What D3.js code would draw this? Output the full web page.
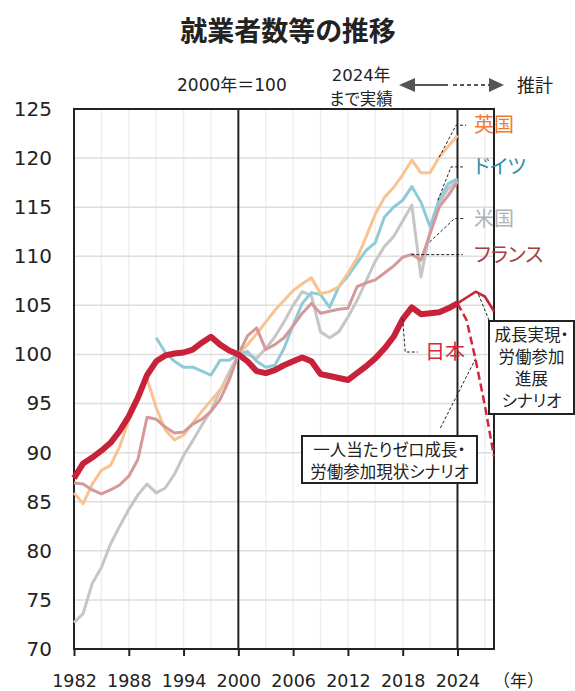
<!DOCTYPE html>
<html>
<head>
<meta charset="utf-8">
<script src="https://cdn.jsdelivr.net/npm/d3@7"></script>
<style>
body { margin: 0; background: #fff; }
text { font-family: "Noto Sans CJK JP", "Noto Sans", sans-serif; font-feature-settings: "palt"; fill: #222; }
.num { font-family: "DejaVu Sans", "Noto Sans CJK JP", sans-serif; font-feature-settings: normal; }
.full { font-feature-settings: normal; }
</style>
</head>
<body>
<script>
// 2000年=100
var years = [1982,1983,1984,1985,1986,1987,1988,1989,1990,1991,1992,1993,1994,1995,1996,1997,1998,1999,
	2000,2001,2002,2003,2004,2005,2006,2007,2008,2009,2010,2011,2012,2013,2014,2015,2016,2017,2018,2019,
	2020,2021,2022,2023,2024];
var japan = [87.4,88.9,89.5,90.2,91.0,92.2,93.7,95.6,97.9,99.3,99.9,100.1,100.2,100.5,101.2,101.8,101.0,100.4,
	100.0,99.3,98.3,98.1,98.4,98.9,99.3,99.7,99.3,98.0,97.8,97.6,97.4,98.1,98.8,99.6,100.6,101.8,103.6,104.8,
	104.1,104.2,104.3,104.7,105.2];
var uk = [85.9,84.8,86.8,88.2,88.7,90.6,93.3,96.0,97.5,94.6,92.3,91.3,91.8,93.0,94.2,95.3,96.4,97.6,
	100.0,101.0,102.1,103.3,104.5,105.5,106.5,107.2,107.8,106.2,106.4,106.9,108.3,109.8,112.0,114.3,116.0,117.0,118.3,119.8,
	118.5,118.5,120.1,121.2,122.3];
var germany = [null,null,null,null,null,null,null,null,null,101.7,100.2,99.3,98.7,98.7,98.3,97.9,99.4,99.4,
	100.0,100.3,99.3,98.7,98.9,100.6,103.0,105.2,106.3,106.1,104.8,106.9,108.0,109.3,110.6,111.4,114.0,115.0,115.7,117.1,
	115.5,113.0,115.8,117.4,117.9];
var usa = [72.7,73.6,76.7,78.3,80.7,82.5,84.2,85.7,86.8,85.9,86.4,87.8,89.7,91.2,92.8,94.3,96.3,98.2,
	100.0,100.0,99.6,100.6,101.8,103.3,105.0,106.4,106.0,102.3,101.7,102.3,103.8,105.5,107.5,109.5,111.0,112.0,113.6,115.2,
	107.9,112.6,115.4,116.9,117.7];
var france = [86.9,86.8,86.2,85.8,86.2,86.7,87.6,89.3,93.6,93.4,92.6,92.0,92.1,92.9,93.4,94.2,95.4,97.4,
	100.0,101.9,102.7,100.5,101.0,101.7,102.9,104.2,105.2,104.2,104.4,104.6,104.7,106.9,107.3,107.6,108.3,109.0,109.9,110.2,
	109.6,112.3,115.0,116.2,117.6];

// 推計
var projYears = [2024,2025,2026,2027,2028];
var japanGrowth = [105.2,105.8,106.4,105.9,104.4];
var japanZero = [105.2,103.5,99.4,94.8,89.6];

var xTicks = [1982,1988,1994,2000,2006,2012,2018,2024];
var yTicks = [70,75,80,85,90,95,100,105,110,115,120,125];
var xGrid = [1985,1988,1991,1994,1997,2003,2006,2009,2012,2015,2018,2021,2027];
var yGrid = [75,80,85,90,95,100,105,110,115,120];

var names = ["米国","ドイツ","英国","フランス"];
var series = [usa, germany, uk, france];
var lineColors = ["#c6c6c6","#8ecbd7","#f9c391","#d6999a"];
var labelColors = ["#b2b2b2","#2f8ea5","#ee7b33","#a4413f"];
// leader lines: [year, value] points
var leaders = [
	[[2020.95,111.45],[2023.67,113.84],[2024.77,113.84]],
	[[2021.85,115.7],[2023.3,119.1],[2024.6,119.1]],
	[[2022,120.1],[2023.85,123.35],[2024.95,123.35]],
	[[2018.94,110.17],[2024.58,110.17]]
];
var japanLeader = [[2018.0,103.65],[2018.28,100.25],[2019.66,100.25]];

var width = 575, height = 691;
var lPad = 74, rPad = 81, tPad = 109, bPad = 42;

var svg = d3.select("body").append("svg")
	.attr("width", width)
	.attr("height", height);

svg.append("rect").attr("width", width).attr("height", height).attr("fill", "#fff");

var xScale = d3.scaleLinear().domain([1982, 2028]).range([lPad, width - rPad]);
var yScale = d3.scaleLinear().domain([70, 125]).range([height - bPad, tPad]);

var g = svg.append("g");

// grid
g.selectAll(".vgrid").data(xGrid).enter().append("line")
	.attr("x1", function(d) { return xScale(d); })
	.attr("x2", function(d) { return xScale(d); })
	.attr("y1", tPad).attr("y2", height - bPad)
	.style("stroke", "#efefef").style("stroke-width", 1.5);
g.selectAll(".hgrid").data(yGrid).enter().append("line")
	.attr("x1", lPad).attr("x2", width - rPad)
	.attr("y1", function(d) { return yScale(d); })
	.attr("y2", function(d) { return yScale(d); })
	.style("stroke", "#dddddd").style("stroke-width", 1.5);

// 2000 and 2024 lines
[2000, 2024].forEach(function(yr) {
	g.append("line")
		.attr("x1", xScale(yr)).attr("x2", xScale(yr))
		.attr("y1", tPad).attr("y2", height - bPad)
		.style("stroke", "#222").style("stroke-width", 2);
});

// axes
var xAxis = d3.axisBottom(xScale).tickValues(xTicks).tickFormat(d3.format("d")).tickSize(7).tickSizeOuter(0);
var gx = g.append("g").attr("transform", "translate(0," + (height - bPad) + ")").call(xAxis);
gx.select(".domain").remove();
gx.selectAll(".tick line").style("stroke", "#222").style("stroke-width", 2);
gx.selectAll(".tick text").attr("class", "num").attr("dy", 0).attr("y", 38)
	.style("font-size", "17.5px").style("fill", "#222");

var yAxis = d3.axisLeft(yScale).tickValues(yTicks).tickSize(0);
var gy = g.append("g").attr("transform", "translate(" + lPad + ",0)").call(yAxis);
gy.select(".domain").remove();
gy.selectAll(".tick text").attr("class", "num").attr("x", -22)
	.style("font-size", "20px").style("fill", "#222");

g.append("text").attr("class", "full").attr("x", 493).attr("y", 687)
	.style("font-size", "17px").text("（年）");

// frame
g.append("rect")
	.attr("x", lPad).attr("y", tPad)
	.attr("width", width - rPad - lPad).attr("height", height - bPad - tPad)
	.style("fill", "none").style("stroke", "#222").style("stroke-width", 2);

// lines
var line = d3.line()
	.defined(function(d) { return d[1] !== null; })
	.x(function(d) { return xScale(d[0]); })
	.y(function(d) { return yScale(d[1]); });

series.forEach(function(s, i) {
	g.append("path")
		.datum(years.map(function(y, j) { return [y, s[j]]; }))
		.attr("d", line)
		.style("fill", "none")
		.style("stroke", lineColors[i])
		.style("stroke-width", 3)
		.style("stroke-linejoin", "round");
});

g.append("path")
	.datum(projYears.map(function(y, j) { return [y, japanZero[j]]; }))
	.attr("d", line)
	.style("fill", "none").style("stroke", "#d2263e").style("stroke-width", 2.5)
	.style("stroke-dasharray", "8,4");
g.append("path")
	.datum(projYears.map(function(y, j) { return [y, japanGrowth[j]]; }))
	.attr("d", line)
	.style("fill", "none").style("stroke", "#c8223a").style("stroke-width", 2.5);

g.append("path")
	.datum(years.map(function(y, j) { return [y, japan[j]]; }))
	.attr("d", line)
	.style("fill", "none").style("stroke", "#c8223a").style("stroke-width", 6)
	.style("stroke-linejoin", "round");

// leaders and labels
var leaderLine = d3.line()
	.x(function(d) { return xScale(d[0]); })
	.y(function(d) { return yScale(d[1]); });
leaders.forEach(function(p, i) {
	g.append("path").attr("d", leaderLine(p))
		.style("fill", "none").style("stroke", "#222").style("stroke-width", 1)
		.style("stroke-dasharray", "3,2");
	var last = p[p.length - 1];
	g.append("text")
		.attr("x", 474)
		.attr("y", yScale(last[1]))
		.attr("dy", "0.36em")
		.style("font-size", "20px")
		.style("fill", labelColors[i])
		.text(names[i]);
});
g.append("path").attr("d", leaderLine(japanLeader))
	.style("fill", "none").style("stroke", "#222").style("stroke-width", 1)
	.style("stroke-dasharray", "3,2");
g.append("text").attr("x", 425).attr("y", yScale(japanLeader[2][1])).attr("dy", "0.36em")
	.style("font-size", "20px").style("fill", "#d3263f").text("日本");

// scenario boxes
g.append("path").attr("d", leaderLine([[2026.3,106.1],[2027.5,103.4]]) )
	.style("fill", "none").style("stroke", "#222").style("stroke-width", 1)
	.style("stroke-dasharray", "3,2");
g.append("path").attr("d", leaderLine([[2026.0,99.6],[2022.07,92.4]]))
	.style("fill", "none").style("stroke", "#222").style("stroke-width", 1)
	.style("stroke-dasharray", "3,2");

function box(x, y, w, h, lines, lh) {
	g.append("rect").attr("x", x).attr("y", y).attr("width", w).attr("height", h)
		.style("fill", "#fff").style("stroke", "#222").style("stroke-width", 2);
	lines.forEach(function(t, i) {
		g.append("text").attr("x", x + w / 2).attr("y", y + 14 + i * lh)
			.attr("dy", "0.36em").attr("text-anchor", "middle")
			.style("font-size", "16.5px").text(t);
	});
}
box(302, 436, 175, 47, ["一人当たりゼロ成長・", "労働参加現状シナリオ"], 22.5);
box(489, 321, 85, 93, ["成長実現・", "労働参加", "進展", "シナリオ"], 22);

// header
svg.append("text").attr("x", 288).attr("y", 41).attr("text-anchor", "middle")
	.style("font-size", "27px").style("font-weight", "bold").text("就業者数等の推移");
svg.append("text").attr("class", "num").attr("x", 177).attr("y", 91).style("font-size", "17px").text("2000年＝100");
svg.append("text").attr("class", "num").attr("x", 361).attr("y", 81).attr("text-anchor", "middle").style("font-size", "16.5px").text("2024年");
svg.append("text").attr("x", 361).attr("y", 105).attr("text-anchor", "middle").style("font-size", "16.5px").text("まで実績");
svg.append("text").attr("x", 517).attr("y", 92).style("font-size", "18px").text("推計");

svg.append("polygon").attr("points", "399,85 415,78 415,92").style("fill", "#555");
svg.append("line").attr("x1", 414).attr("x2", 448).attr("y1", 85).attr("y2", 85)
	.style("stroke", "#555").style("stroke-width", 2);
svg.append("line").attr("x1", 453).attr("x2", 490).attr("y1", 85).attr("y2", 85)
	.style("stroke", "#555").style("stroke-width", 2).style("stroke-dasharray", "4,3");
svg.append("polygon").attr("points", "504,85 489,78 489,92").style("fill", "#555");
</script>
</body>
</html>
